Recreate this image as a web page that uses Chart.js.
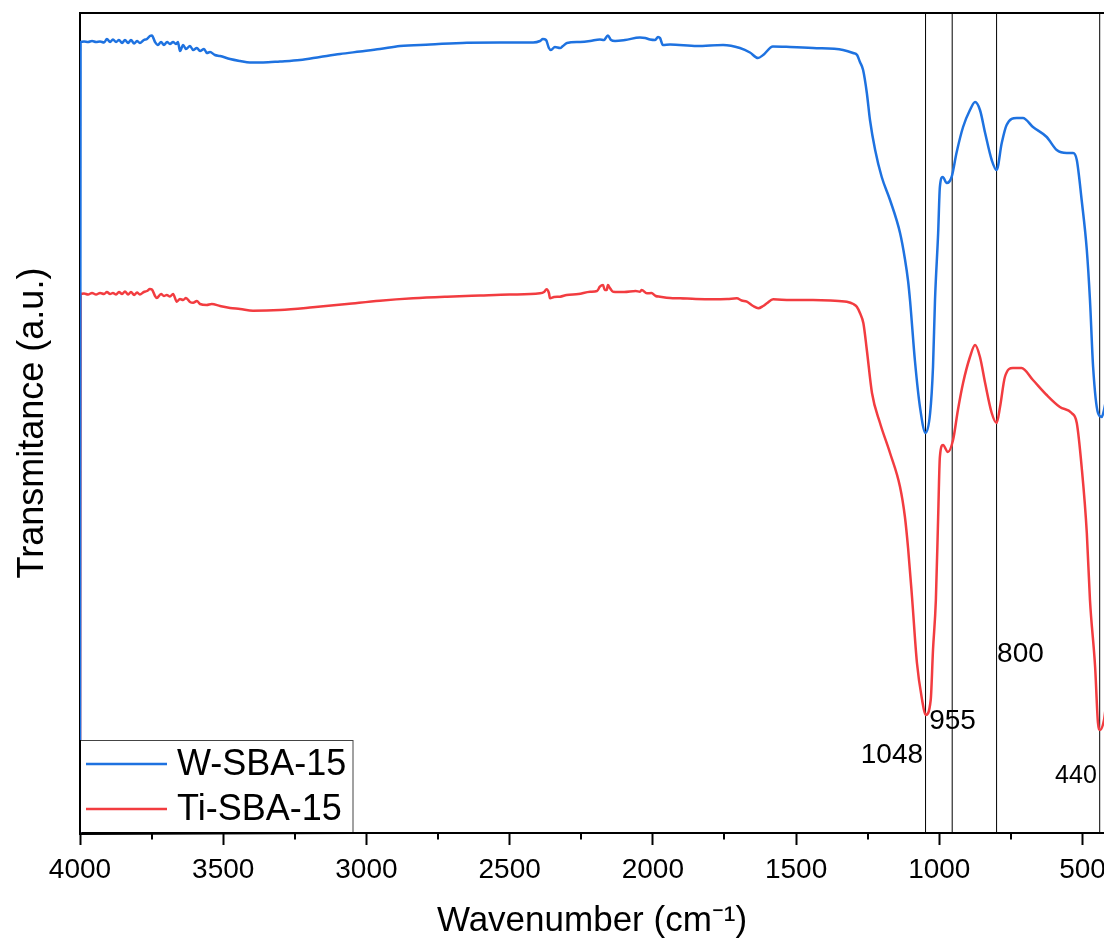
<!DOCTYPE html>
<html><head><meta charset="utf-8">
<script src="https://cdn.jsdelivr.net/npm/chart.js@4.4.1/dist/chart.umd.min.js"></script>
<style>
html,body{margin:0;padding:0;overflow:hidden;background:#fff;width:1104px;height:946px}
#wrap{width:1104px;height:946px;overflow:hidden}
canvas{display:block}
</style></head>
<body><div id="wrap"><canvas id="c" width="1120" height="946"></canvas></div>
<script>
// ---- data (wavenumber cm-1, transmittance a.u.) ----
const seriesNames = ['W-SBA-15', 'Ti-SBA-15'];
const wSba15 = [[4000,0],[3998,791],[3986,791.5],[3972,791],[3958,792],[3944,791],[3930,791.5],[3916,790.5],[3906,794],[3895,791],[3885,793.5],[3874,791],[3864,793],[3853,790],[3843,793],[3832,790],[3822,793],[3811,789.5],[3801,792],[3791,790],[3777,793],[3766,794],[3756,797],[3749,797.5],[3738,791],[3728,788],[3717,791],[3707,788],[3696,791],[3686,789],[3675,791],[3665,789],[3658,791],[3651,782],[3640,788],[3630,784],[3616,787],[3605,783],[3592,785],[3581,782],[3567,784],[3557,780],[3546,781],[3529,778],[3511,777],[3476,774],[3441,772],[3407,770.5],[3361,770.5],[3302,771.5],[3232,773],[3162,776],[3092,779],[3022,781.5],[2953,784],[2883,787],[2778,788.5],[2649,790.3],[2534,790.5],[2418,790.5],[2394,792],[2384,794],[2373,793],[2363,785],[2356,783],[2342,786],[2324,785],[2314,787],[2300,790],[2254,791],[2219,792],[2185,793.5],[2171,793],[2157,797.5],[2146,793],[2132,792],[2097,793],[2045,795.5],[2027,795],[2010,793.5],[1992,793],[1982,796],[1975,795],[1965,788],[1940,788.5],[1846,787],[1755,788],[1696,785],[1661,780.5],[1633,775],[1615,778],[1581,786.5],[1521,786],[1441,785],[1336,783],[1301,780],[1287,778],[1277,771],[1266,763],[1253,740],[1242,713],[1224,683],[1201,656],[1172,633],[1137,600],[1120,574],[1109,552],[1102,532],[1085,472],[1067,425],[1048,400],[1032,420],[1022,466],[1015,533],[1004,600],[998,646],[988,656],[974,650],[957,656],[940,680],[917,706],[893,723],[875,731],[858,723],[840,700],[817,673],[800,663],[782,690],[765,708],[730,715],[708,715],[673,706],[625,696],[590,683],[555,680],[533,680],[520,673],[503,633],[485,583],[474,533],[463,466],[446,420],[433,416],[425,423],[418,433]];
const tiSba15 = [[4000,0],[3998,539],[3986,539.5],[3972,538.5],[3958,540],[3944,538.5],[3930,540],[3916,539],[3906,541],[3895,539],[3885,540],[3874,538.5],[3864,541],[3853,539],[3843,541.5],[3832,538.5],[3822,541],[3811,538],[3801,540.5],[3791,538.5],[3777,541],[3766,542],[3756,544],[3749,543.5],[3738,537],[3732,535],[3717,539],[3707,537],[3697,538],[3686,536.5],[3675,539],[3662,531.3],[3651,534],[3640,533],[3630,535],[3616,531],[3605,530.3],[3592,532],[3581,529],[3558,528],[3540,529],[3511,527],[3476,525],[3441,524],[3396,522.3],[3302,523],[3187,525.7],[3068,529],[2953,532.3],[2837,534.7],[2719,536.3],[2603,537.5],[2500,538.5],[2394,539.7],[2380,541],[2371,543.7],[2363,540],[2359,534.7],[2345,536],[2324,536.3],[2301,538],[2260,539],[2219,541.3],[2195,542],[2185,546.3],[2174,548],[2168,543],[2161,543],[2157,548],[2150,545],[2139,541.3],[2100,541],[2060,542],[2045,541.3],[2039,543],[2021,539.7],[2005,540],[1990,537],[1975,536.3],[1940,535],[1905,534.7],[1850,534],[1790,533.7],[1740,534],[1707,534.7],[1690,532.5],[1672,531.3],[1650,527],[1632,524.7],[1615,527],[1602,529.7],[1580,533.7],[1520,533],[1441,533],[1380,532.5],[1323,531.3],[1300,529],[1288,526.3],[1277,520],[1265,509.7],[1253,483],[1235,440],[1207,410],[1172,380],[1137,346],[1120,316],[1109,285],[1095,235],[1078,170],[1060,133],[1048,118],[1030,133],[1022,183],[1012,233],[1004,316],[998,376],[987,388],[970,381],[952,393],[935,423],[917,450],[893,476],[875,488],[858,476],[840,450],[817,420],[800,410],[788,426],[771,456],[743,465],[713,465],[673,453],[625,438],[579,426],[538,420],[520,410],[503,366],[485,300],[474,233],[456,166],[446,110],[439,103],[425,113],[418,128]];
const xTickValues = [4000, 3500, 3000, 2500, 2000, 1500, 1000, 500];
const xMinorTickValues = [3750, 3250, 2750, 2250, 1750, 1250, 750];
const peakPositions = [1048, 955, 800, 440];
const peakLabels = ['1048', '955', '800', '440'];

// ---- styles ----
const FONT = "'Liberation Sans', Arial, Helvetica, sans-serif";
const BLUE = '#1e72e0';
const RED = '#f23c40';
const peakLabelStyle = [
  {dx: -2.5, up: 78, align: 'right', size: 28},
  {dx: -23, up: 112, align: 'left', size: 28},
  {dx: 0.5, up: 179, align: 'left', size: 28},
  {dx: -44.6, up: 57, align: 'left', size: 25}
];

const decor = {
  id: 'decor',
  beforeDatasetsDraw(chart) {
    const {ctx, chartArea: a, scales: {x}} = chart;
    ctx.save();
    ctx.strokeStyle = '#000'; ctx.lineWidth = 2;
    ctx.beginPath(); ctx.moveTo(a.left - 1, a.top); ctx.lineTo(chart.width, a.top); ctx.stroke();
    ctx.lineWidth = 1;
    peakPositions.forEach(p => {
      const px = x.getPixelForValue(p);
      ctx.beginPath(); ctx.moveTo(px, a.top); ctx.lineTo(px, a.bottom); ctx.stroke();
    });
    ctx.restore();
  },
  afterDatasetsDraw(chart) {
    const {ctx, chartArea: a, scales: {x}} = chart;
    ctx.save();
    ctx.strokeStyle = '#000'; ctx.lineWidth = 2;
    xMinorTickValues.forEach(v => {
      const px = Math.round(x.getPixelForValue(v));
      ctx.beginPath(); ctx.moveTo(px, a.bottom); ctx.lineTo(px, a.bottom + 6.5); ctx.stroke();
    });
    ctx.fillStyle = '#000'; ctx.textBaseline = 'middle';
    peakPositions.forEach((p, i) => {
      const s = peakLabelStyle[i];
      ctx.font = s.size + 'px ' + FONT;
      ctx.textAlign = s.align;
      ctx.fillText(peakLabels[i], x.getPixelForValue(p) + s.dx, a.bottom - s.up);
    });
    const lx = a.left, ly = 740, lw = 273, lh = a.bottom - ly;
    ctx.fillStyle = '#fff';
    ctx.fillRect(lx + 1, ly, lw - 1, lh - 1);
    ctx.strokeStyle = '#444'; ctx.lineWidth = 1;
    ctx.strokeRect(lx + 0.5, ly + 0.5, lw - 0.5, lh);
    const rows = [764, 809];
    chart.data.datasets.forEach((ds, i) => {
      ctx.strokeStyle = ds.borderColor; ctx.lineWidth = 2.5;
      ctx.beginPath(); ctx.moveTo(86, rows[i]); ctx.lineTo(167, rows[i]); ctx.stroke();
      ctx.fillStyle = '#000'; ctx.font = '36px ' + FONT;
      ctx.textAlign = 'left'; ctx.textBaseline = 'middle';
      ctx.fillText(ds.label, 177, rows[i] + 1);
    });
    ctx.strokeStyle = '#000'; ctx.lineWidth = 2;
    ctx.beginPath(); ctx.moveTo(a.left, ly); ctx.lineTo(a.left, a.bottom + 1); ctx.lineTo(lx + lw + 2, a.bottom); ctx.stroke();
    ctx.restore();
  }
};

const toXY = arr => arr.map(p => ({x: p[0], y: p[1]}));

new Chart(document.getElementById('c').getContext('2d'), {
  type: 'line',
  data: {
    datasets: [
      {label: seriesNames[0], data: toXY(wSba15), borderColor: BLUE, borderWidth: 2.5, pointRadius: 0, cubicInterpolationMode: 'monotone', fill: false},
      {label: seriesNames[1], data: toXY(tiSba15), borderColor: RED, borderWidth: 2.5, pointRadius: 0, cubicInterpolationMode: 'monotone', fill: false}
    ]
  },
  options: {
    responsive: false, animation: false, devicePixelRatio: 1,
    layout: {padding: {top: 13, right: 16, left: 0, bottom: 0}},
    plugins: {legend: {display: false}, tooltip: {enabled: false}},
    scales: {
      x: {
        type: 'linear', reverse: true, min: 425, max: 4000,
        afterBuildTicks: s => { s.ticks = xTickValues.map(v => ({value: v})); },
        afterFit: s => { s.height = 113; },
        ticks: {autoSkip: false, maxRotation: 0, color: '#000', font: {family: FONT, size: 28}, padding: 8, callback: v => String(v)},
        grid: {display: true, drawOnChartArea: false, drawTicks: true, tickLength: 12, tickWidth: 2, tickColor: '#000'},
        border: {display: true, color: '#000', width: 2},
        title: {display: true, text: 'Wavenumber (cm\u207B\u00B9)', color: '#000', font: {family: FONT, size: 35}, padding: {top: 0, bottom: 4}}
      },
      y: {
        min: 0, max: 820,
        afterFit: s => { s.width = 80; },
        ticks: {display: false},
        grid: {display: false, drawTicks: false},
        border: {display: true, color: '#000', width: 2},
        title: {display: true, text: 'Transmitance (a.u.)', color: '#000', font: {family: FONT, size: 36}, padding: {top: 11, bottom: 0}}
      }
    }
  },
  plugins: [decor]
});
</script>
</body></html>
